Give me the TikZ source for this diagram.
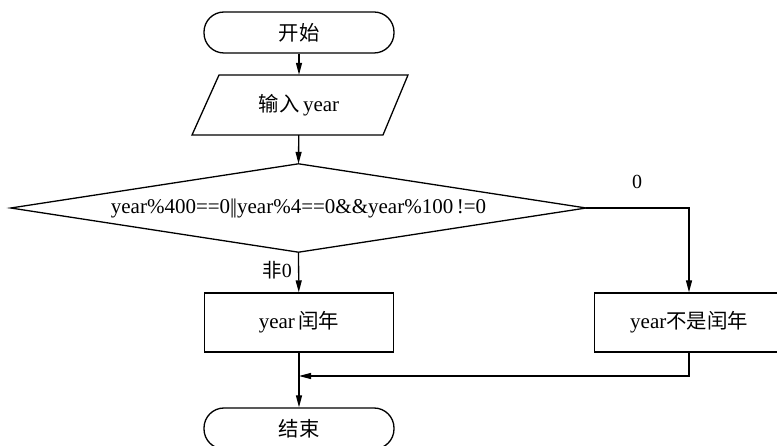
\documentclass[tikz,border=0pt]{standalone}
\usepackage{fontspec}
\setmainfont{Liberation Serif}
\newfontfamily\cjk{Noto Sans CJK SC}[Scale=0.97]
\usetikzlibrary{arrows.meta}
\begin{document}
\begin{tikzpicture}[x=1pt,y=-1pt,
  every node/.style={font=\fontsize{21}{24}\selectfont, inner sep=0pt},
  line/.style={line width=1.3pt},
  arr/.style={line, -{Triangle[length=12pt,width=6pt]}},
  term/.style={draw, line width=1.3pt, rounded corners=20pt, minimum width=190pt, minimum height=41pt},
  procbox/.style={draw, line width=1.3pt, minimum width=189pt, minimum height=59pt},
  lbl/.style={font=\fontsize{20}{23}\selectfont}]
\useasboundingbox (0,0) rectangle (777,446);
% nodes
\node[term] (start) at (299,32.5) {{\cjk 开始}};
\node[minimum width=190pt, minimum height=60pt] (in) at (299,105) {{\cjk 输入}\,year};
\draw[line] (219,75) -- (408,75) -- (383,135) -- (192,135) -- cycle;
\node[minimum width=575pt, minimum height=88pt] (dec) at (298.5,208) {year\%400==0|\kern-1.5pt|year\%4==0\&\&year\%100\,!=0};
\draw[line] (dec.west) -- (dec.north) -- (dec.east) -- (dec.south) -- cycle;
\node[procbox] (yes) at (299,322.5) {year\,{\cjk 闰年}};
\node[procbox] (no) at (689,322.5) {year{\cjk 不是闰年}};
\node[term] (end) at (299,428.5) {{\cjk 结束}};
\coordinate (c1) at (689,208);
\coordinate (c2) at (689,376);
\coordinate (j) at (299,376);
% connectors
\draw[arr] (start) -- (in);
\draw[arr] (in) -- (dec.north);
\draw[arr] (dec.south) -- (yes) node[lbl, pos=0.45, left=6pt] {{\cjk 非}0};
\draw[arr] (dec.east) -- (c1) -- (no);
\node[lbl] at (637,182) {0};
\draw[arr] (no.south) -- (c2) -- (j);
\draw[arr] (yes) -- (end);
\end{tikzpicture}
\end{document}
